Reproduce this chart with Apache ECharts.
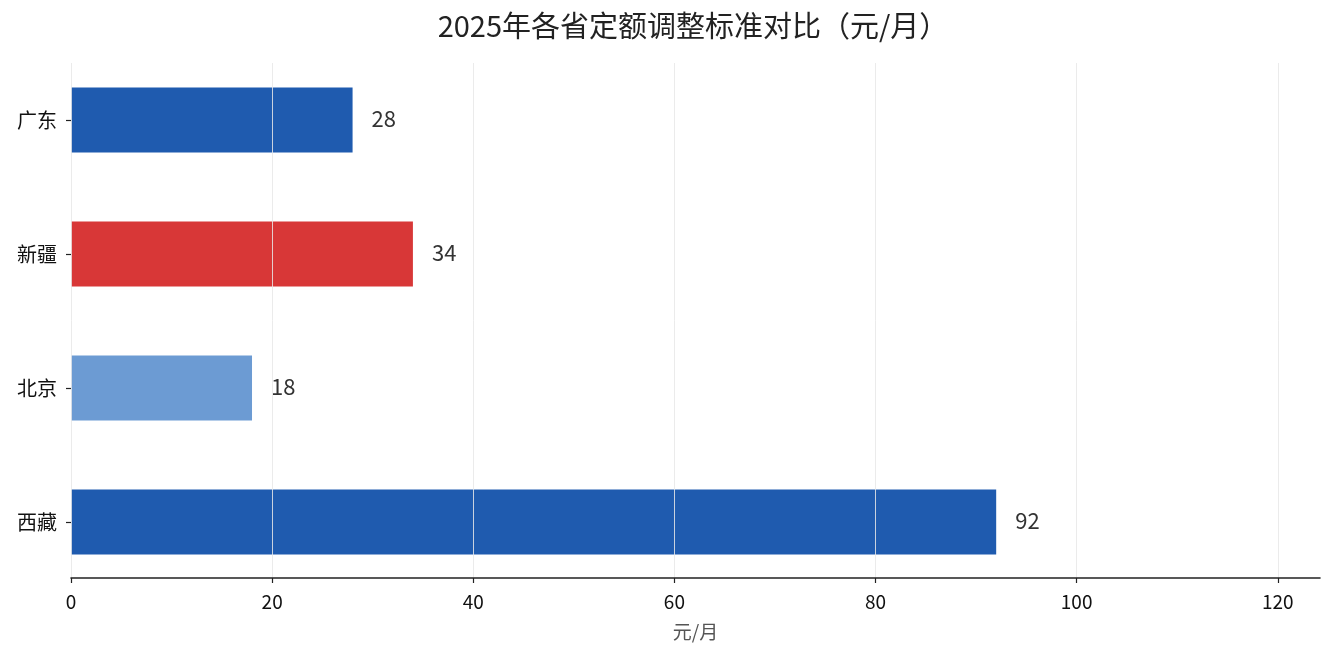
<!DOCTYPE html>
<html>
<head>
<meta charset="utf-8">
<script src="https://cdn.jsdelivr.net/npm/echarts@6/dist/echarts.min.js"></script>
<style>
  html, body { margin: 0; padding: 0; background: #fff; }
  #main { width: 1335px; height: 660px; }
</style>
</head>
<body>
<div id="main"></div>
<script>
const PROVINCES = ['广东', '新疆', '北京', '西藏']
const VALUES = [28, 34, 18, 92]
const BAR_COLORS = ['#1f5baf', '#d83737', '#6c9bd3', '#1f5baf']
const X_TICKS = [0, 20, 40, 60, 80, 100, 120]
const X_MAX = 124.2

const FONT = '"Noto Sans CJK SC", "Noto Sans", sans-serif'

const chart = echarts.init(document.getElementById('main'))

chart.setOption({
  backgroundColor: '#fff',
  animation: false,
  textStyle: { fontFamily: FONT },
  title: {
    text: '2025年各省定额调整标准对比（元/月）',
    left: 688, top: 6, textAlign: 'center',
    textStyle: { fontFamily: FONT, fontSize: 29, fontWeight: 'normal', color: '#222' },
  },
  // grid 0 holds the bars, grid 1 draws the visible x axis and grid lines
  grid: [
    { left: 71, right: 15, top: 53, bottom: 71 },
    { left: 71, right: 15, top: 63, bottom: 82 },
  ],
  xAxis: [
    { gridIndex: 0, type: 'value', min: 0, max: X_MAX, show: false },
    {
      gridIndex: 1, type: 'value', min: 0, max: X_MAX, interval: 20, z: 5,
      name: '元/月', nameLocation: 'middle', nameGap: 44,
      nameTextStyle: { fontFamily: FONT, fontSize: 19, color: '#555' },
      axisLine: { lineStyle: { color: '#222', width: 1.6 } },
      axisTick: { show: true, length: 5, customValues: X_TICKS, lineStyle: { color: '#222', width: 1.2 } },
      axisLabel: { customValues: X_TICKS, margin: 14, fontFamily: FONT, fontSize: 19, color: '#111' },
      splitLine: { show: true, lineStyle: { color: 'rgba(232,232,232,0.85)', width: 1 } },
    },
  ],
  yAxis: [
    {
      gridIndex: 0, type: 'category', inverse: true, data: PROVINCES,
      axisLine: { show: false },
      axisTick: { show: true, alignWithLabel: true, length: 5, lineStyle: { color: '#222', width: 1.2 } },
      axisLabel: { margin: 14, fontFamily: FONT, fontSize: 20, color: '#111' },
      splitLine: { show: false },
    },
    { gridIndex: 1, type: 'value', show: false, min: 0, max: 1 },
  ],
  series: [
    {
      type: 'bar', xAxisIndex: 0, yAxisIndex: 0,
      barWidth: 65,
      data: VALUES.map((v, i) => ({ value: v, itemStyle: { color: BAR_COLORS[i] } })),
      label: {
        show: true, position: 'right', distance: 19, offset: [0, -1],
        fontFamily: FONT, fontSize: 22, color: '#333',
      },
    },
  ],
})
</script>
</body>
</html>
